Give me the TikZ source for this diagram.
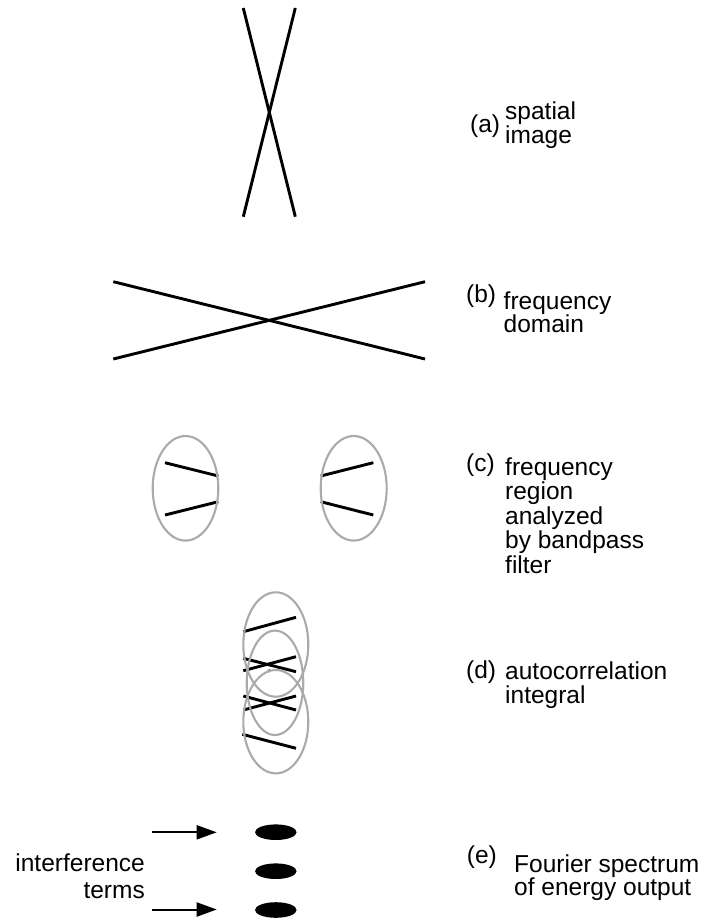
\documentclass[tikz,border=0pt]{standalone}
\usepackage{fontspec}
\setmainfont{Liberation Sans}
\usetikzlibrary{arrows.meta}
\definecolor{ringgray}{RGB}{170,170,170}
\newcommand\lstack[1]{\vtop{\lineskiplimit=-100pt\relax\halign{##\hfil\cr#1\crcr}}}
\newcommand\rstack[1]{\vtop{\lineskiplimit=-100pt\relax\halign{\hfil##\cr#1\crcr}}}
\begin{document}
\begin{tikzpicture}[x=1pt,y=-1pt,
  blk/.style={line width=2.9pt},
  ring/.style={draw=ringgray, line width=2.1pt},
  arr/.style={line width=2pt, -{Triangle[length=20pt,width=14pt]}},
  blob/.style={fill=black},
  lbl/.style={inner sep=0pt, anchor=base west, font=\fontsize{24.5}{24.5}\selectfont},
  lblr/.style={inner sep=0pt, anchor=base east, font=\fontsize{24.5}{26.5}\selectfont}]
\useasboundingbox (0,0) rectangle (702,920);

% (a) spatial image
\draw[blk] (243.3,8) -- (295.3,216.7);
\draw[blk] (295.3,8) -- (243.3,216.7);

% (b) frequency domain
\draw[blk] (113.3,281.7) -- (425,359);
\draw[blk] (113.3,359) -- (425,281.7);

% (c) bandpass regions
\draw[blk] (165,462.7) -- (218.3,476);
\draw[blk] (165,515) -- (218.3,501.7);
\draw[blk] (320.7,476) -- (373.3,462.7);
\draw[blk] (320.7,501.7) -- (373.3,515);
\draw[ring] (185.5,488.3) ellipse [x radius=32.8, y radius=52.3];
\draw[ring] (353.7,488.3) ellipse [x radius=33, y radius=52.3];

% (d) autocorrelation
\draw[blk] (243.3,631.7) -- (296,617.3);
\draw[blk] (243.3,658.3) -- (296,671.7);
\draw[blk] (243.3,670.7) -- (296,656.7);
\draw[blk] (243.3,696) -- (296,710);
\draw[blk] (243.3,710) -- (296,696);
\draw[blk] (242.3,734.3) -- (296,748.3);
\fill (269.3,670.7) circle (1.6);
\draw[ring] (275.8,644.5) ellipse [x radius=32.5, y radius=52.2];
\draw[ring] (275,682.8) ellipse [x radius=28.3, y radius=52.2];
\draw[ring] (275.8,721.7) ellipse [x radius=32.5, y radius=51.7];

% (e) Fourier spectrum
\fill[blob] (275.8,832.2) ellipse [x radius=20.8, y radius=7.8];
\fill[blob] (275.8,871.2) ellipse [x radius=20.8, y radius=7.8];
\fill[blob] (275.8,910) ellipse [x radius=20.8, y radius=7.8];
\coordinate (a1s) at (151.7,832.3);
\coordinate (a1e) at (216.7,832.3);
\coordinate (a2s) at (151.7,909.5);
\coordinate (a2e) at (216.7,909.5);
\draw[arr] (a1s) -- (a1e);
\draw[arr] (a2s) -- (a2e);
\node[lblr] (interf) at (145,871.5) {\rstack{interference\cr terms}};

% labels
\node[lbl] (la) at (470,133) {(a)};
\node[lbl] (ta) at (505,119.5) {\lstack{spatial\cr image}};
\node[lbl] (lb) at (466,302.7) {(b)};
\node[lbl,font=\fontsize{24.5}{23.5}\selectfont] (tb) at (503.5,309) {\lstack{frequency\cr domain}};
\node[lbl] (lc) at (466,471.7) {(c)};
\node[lbl] (tc) at (505,475) {\lstack{frequency\cr region\cr analyzed\cr by bandpass\cr filter}};
\node[lbl] (ld) at (466,678.3) {(d)};
\node[lbl] (td) at (505,679.3) {\lstack{autocorrelation\cr integral}};
\node[lbl] (le) at (466.7,863.3) {(e)};
\node[lbl,font=\fontsize{24.5}{22.3}\selectfont] (te) at (514,872.8) {\lstack{Fourier spectrum\cr of energy output}};
\end{tikzpicture}
\end{document}
